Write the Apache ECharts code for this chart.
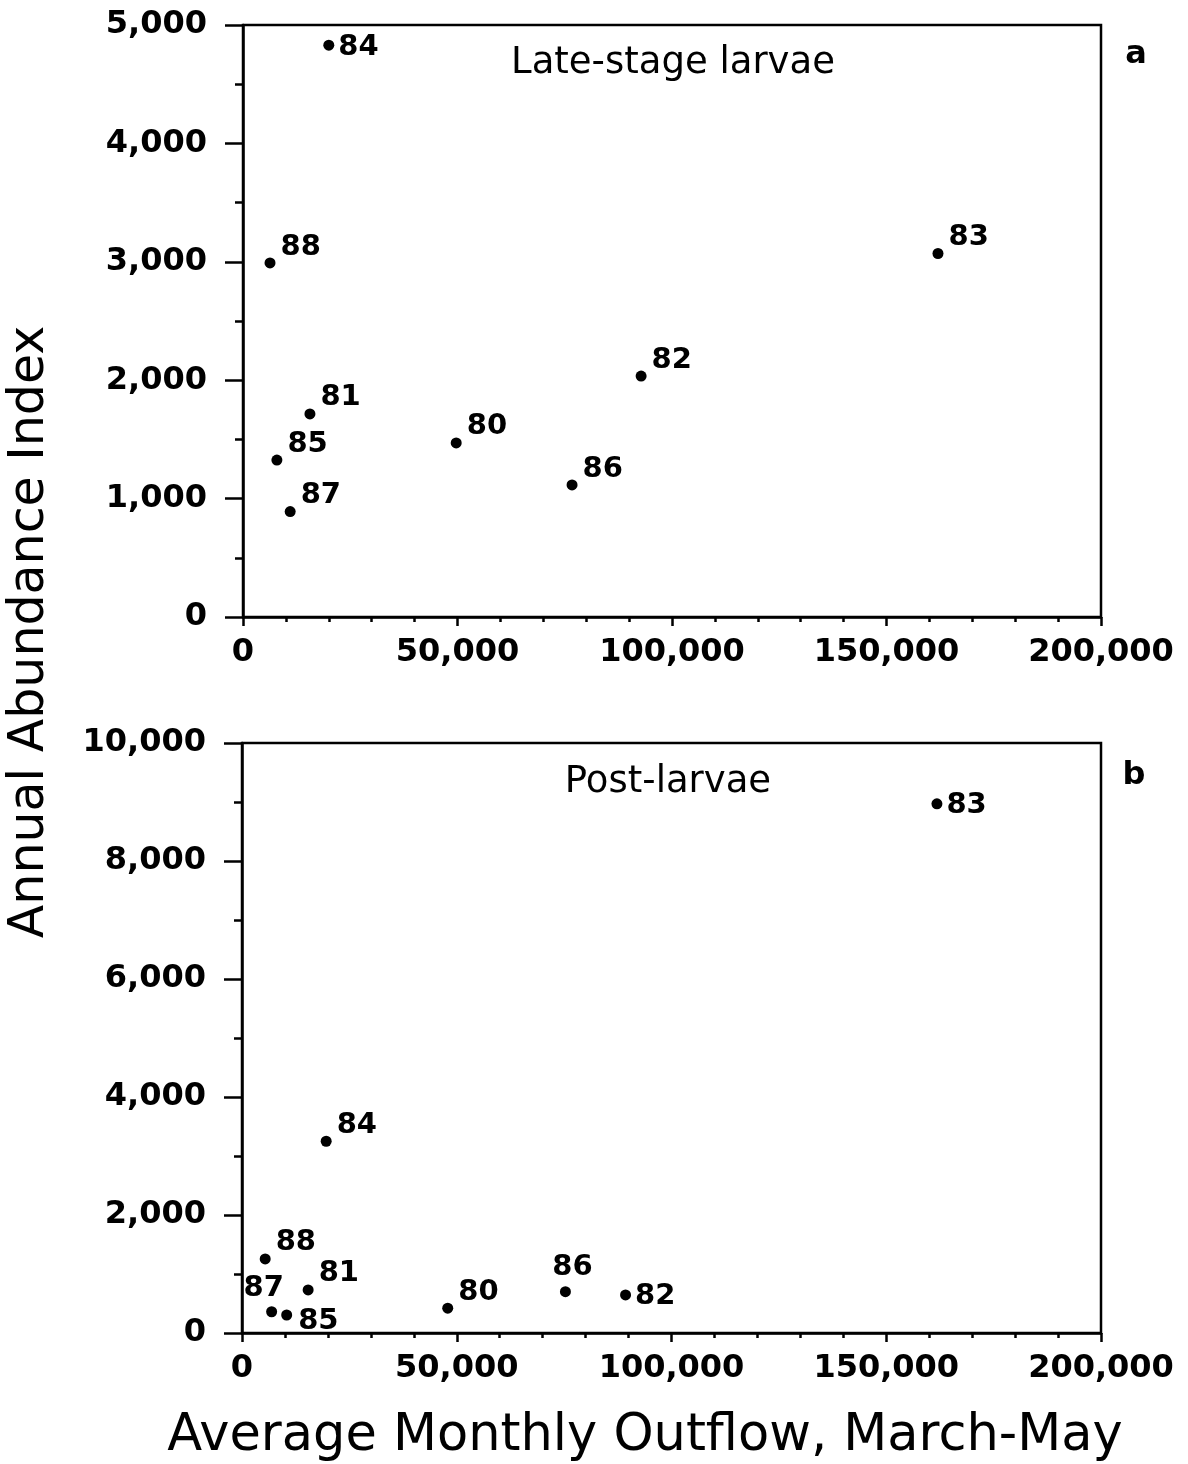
<!DOCTYPE html>
<html>
<head>
<meta charset="utf-8">
<script src="https://cdn.jsdelivr.net/npm/echarts@6/dist/echarts.min.js"></script>
<style>
html,body{margin:0;padding:0;background:#fff;}
#chart{width:1188px;height:1464px;}
</style>
</head>
<body>
<div id="chart"></div>
<script>
// Panel a: Late-stage larvae
const yearsA = ['84','88','83','82','81','80','85','86','87'];
const outflowA = [20000, 6300, 162000, 92800, 15600, 49700, 7900, 76700, 11000];
const abundanceA = [4830, 2990, 3070, 2035, 1715, 1470, 1325, 1115, 890];
const labelPlaceA = ['r','ur','ur','ur','ur','ur','ur','ur','ur'];

// Panel b: Post-larvae
const yearsB = ['83','84','88','81','87','85','80','86','82'];
const outflowB = [161800, 19600, 5400, 15400, 6900, 10400, 47900, 75300, 89300];
const abundanceB = [8970, 3250, 1255, 730, 360, 305, 420, 700, 645];
const labelPlaceB = ['r','ur','ur','ur','ul','dr','ur','u','r'];

const xTicks = [0, 50000, 100000, 150000, 200000];
const yTicksA = [0, 1000, 2000, 3000, 4000, 5000];
const yTicksB = [0, 2000, 4000, 6000, 8000, 10000];

const FONT = '"DejaVu Sans", "Liberation Sans", Arial, sans-serif';
const fmt = v => v.toLocaleString('en-US');

function placeLabel(p) {
  switch (p) {
    case 'r':  return {position: 'right', distance: 4, offset: [0, 2]};
    case 'ur': return {position: 'right', distance: 5, offset: [0, -16]};
    case 'dr': return {position: 'right', distance: 6, offset: [0, 6]};
    case 'ul': return {position: 'top', distance: 3, offset: [-8, 0]};
    case 'u':  return {position: 'top', distance: 4, offset: [7, 0]};
  }
}

function makeData(xs, ys, names, places) {
  return xs.map((x, i) => ({
    value: [x, ys[i]],
    name: names[i],
    label: placeLabel(places[i])
  }));
}

const axisLineStyle = {show: true, lineStyle: {color: '#000', width: 2.5}};
const xAxisCommon = {
  type: 'value', min: 0, max: 200000, interval: 50000,
  axisLine: axisLineStyle,
  axisTick: {show: true, inside: false, length: 9, lineStyle: {color: '#000', width: 2.5}},
  minorTick: {show: true, splitNumber: 5, length: 5, lineStyle: {color: '#000', width: 2.5}},
  splitLine: {show: false},
  axisLabel: {
    color: '#000', fontFamily: FONT, fontWeight: 'bold', fontSize: 32, margin: 20,
    formatter: v => xTicks.includes(v) ? fmt(v) : ''
  }
};

function yAxis(gridIndex, max, interval, ticks) {
  return {
    gridIndex, type: 'value', min: 0, max, interval,
    axisLine: axisLineStyle,
    axisTick: {show: true, inside: false, length: 18, lineStyle: {color: '#000', width: 2.5}},
    minorTick: {show: true, splitNumber: 2, length: 8, lineStyle: {color: '#000', width: 2.5}},
    splitLine: {show: false},
    axisLabel: {
      color: '#000', fontFamily: FONT, fontWeight: 'bold', fontSize: 32, margin: 36,
      formatter: v => ticks.includes(v) ? fmt(v) : ''
    }
  };
}

const labelStyle = {
  show: true, formatter: '{b}', color: '#000',
  fontFamily: FONT, fontWeight: 'bold', fontSize: 29
};

const chart = echarts.init(document.getElementById('chart'), null, {renderer: 'canvas'});
chart.setOption({
  backgroundColor: '#fff',
  animation: false,
  grid: [
    {left: 243, right: 87, top: 25, height: 592, show: true, borderColor: '#000', borderWidth: 2.5, backgroundColor: 'transparent'},
    {left: 242, right: 87, top: 743, height: 590, show: true, borderColor: '#000', borderWidth: 2.5, backgroundColor: 'transparent'}
  ],
  xAxis: [
    Object.assign({gridIndex: 0}, xAxisCommon),
    Object.assign({gridIndex: 1}, xAxisCommon)
  ],
  yAxis: [
    yAxis(0, 5000, 1000, yTicksA),
    yAxis(1, 10000, 2000, yTicksB)
  ],
  series: [
    {
      type: 'scatter', xAxisIndex: 0, yAxisIndex: 0,
      symbol: 'circle', symbolSize: 11, itemStyle: {color: '#000', opacity: 1},
      label: labelStyle,
      emphasis: {disabled: true},
      data: makeData(outflowA, abundanceA, yearsA, labelPlaceA)
    },
    {
      type: 'scatter', xAxisIndex: 1, yAxisIndex: 1,
      symbol: 'circle', symbolSize: 11, itemStyle: {color: '#000', opacity: 1},
      label: labelStyle,
      emphasis: {disabled: true},
      data: makeData(outflowB, abundanceB, yearsB, labelPlaceB)
    }
  ],
  graphic: [
    {type: 'text', style: {text: 'Late-stage larvae', x: 673, y: 63, align: 'center', verticalAlign: 'middle', fill: '#000', font: '37px ' + FONT}},
    {type: 'text', style: {text: 'Post-larvae', x: 668, y: 782, align: 'center', verticalAlign: 'middle', fill: '#000', font: '37px ' + FONT}},
    {type: 'text', style: {text: 'a', x: 1136, y: 55, align: 'center', verticalAlign: 'middle', fill: '#000', font: 'bold 32px ' + FONT}},
    {type: 'text', style: {text: 'b', x: 1134, y: 776, align: 'center', verticalAlign: 'middle', fill: '#000', font: 'bold 32px ' + FONT}},
    {type: 'text', style: {text: 'Average Monthly Outflow, March-May', x: 645, y: 1437, align: 'center', verticalAlign: 'middle', fill: '#000', font: '51px ' + FONT}},
    {type: 'text', rotation: Math.PI / 2, x: 30, y: 632, style: {text: 'Annual Abundance Index', x: 0, y: 0, align: 'center', verticalAlign: 'middle', fill: '#000', font: '49px ' + FONT}}
  ]
});
</script>
</body>
</html>
